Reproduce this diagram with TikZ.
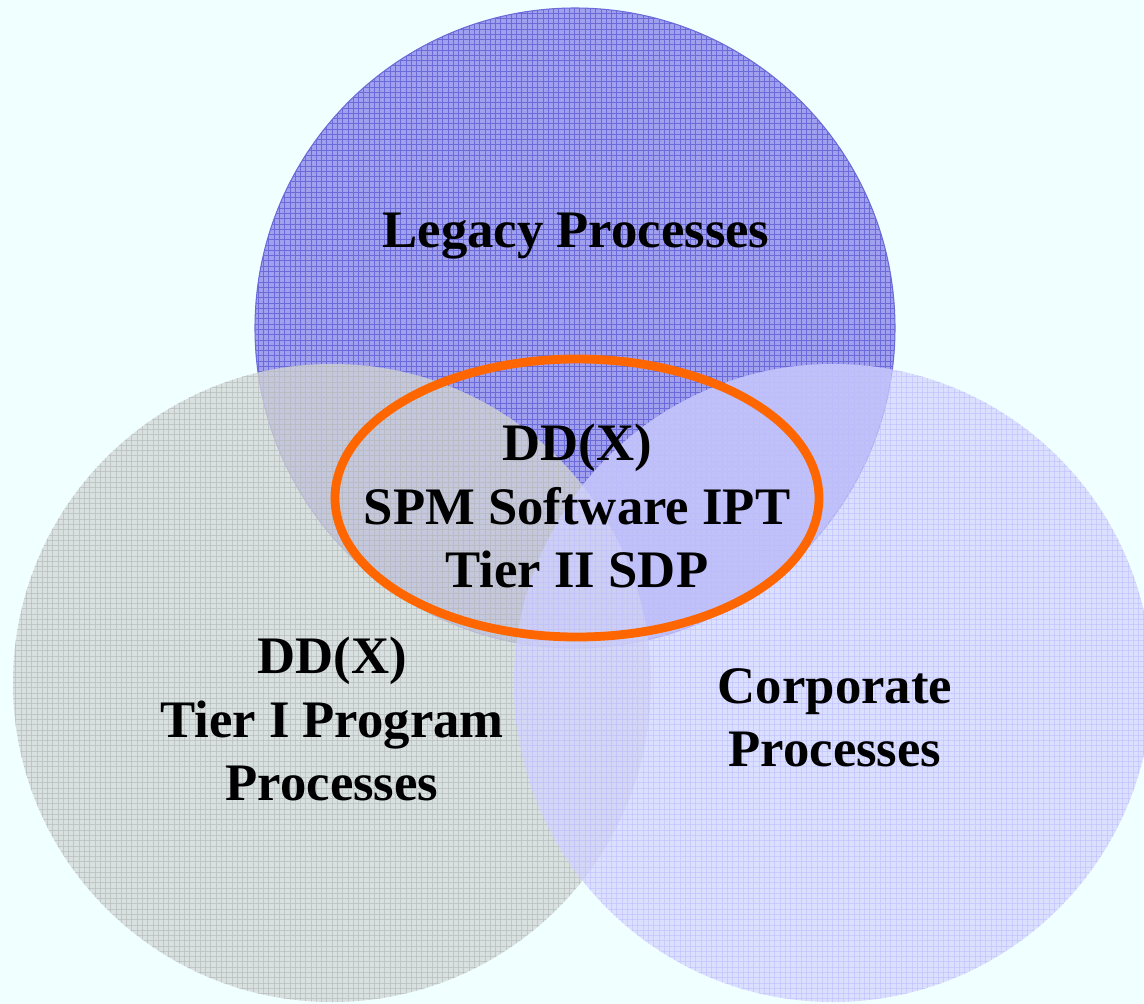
\documentclass[tikz,border=0pt]{standalone}
\usepackage{fontspec}
\setmainfont{Liberation Serif}
\usetikzlibrary{patterns}

\definecolor{bgazure}{HTML}{F0FFFF}
\definecolor{legacyblue}{HTML}{A0A0EE}
\definecolor{legacyline}{HTML}{6A6AD8}
\definecolor{tiergray}{HTML}{D2D6D6}
\definecolor{tierline}{HTML}{BABEBE}
\definecolor{corplav}{HTML}{D2D2FF}
\definecolor{corpline}{HTML}{C2C2FF}
\definecolor{ddxorange}{HTML}{FF6600}

\begin{document}
\begin{tikzpicture}[x=0.02cm, y=-0.02cm,
    every node/.style={font=\fontsize{30}{36}\selectfont\bfseries, align=center, text=black}]
            % Fondo
            \fill[bgazure] (0,0) rectangle (1144,1004);
            \useasboundingbox (0,0) rectangle (1144,1004);

            % Circulos
            \fill[legacyblue] (575,328) circle (320);
            \fill[pattern=grid, pattern color=legacyline] (575,328) circle (320);
            \draw[legacyline, line width=0.6pt] (575,328) circle (320);

            \begin{scope}[opacity=0.75]
              \fill[tiergray] (332,683) circle (319);
              \fill[pattern=grid, pattern color=tierline] (332,683) circle (319);
            \end{scope}

            \begin{scope}[opacity=0.68]
              \fill[corplav] (833,683) circle (319);
              \fill[pattern=grid, pattern color=corpline] (833,683) circle (319);
            \end{scope}

            % Elipse
            \draw[ddxorange, line width=5pt] (577,498) ellipse (242 and 139);

            % Textos
            \node (legacy) at (576,236) {Legacy Processes};
            \node (spm) at (577,506) {DD(X)\\SPM Software IPT\\Tier II SDP};
            \node (tierone) at (332,719) {DD(X)\\Tier I Program\\Processes};
            \node (corp) at (835,718) {Corporate\\Processes};
\end{tikzpicture}
\end{document}
